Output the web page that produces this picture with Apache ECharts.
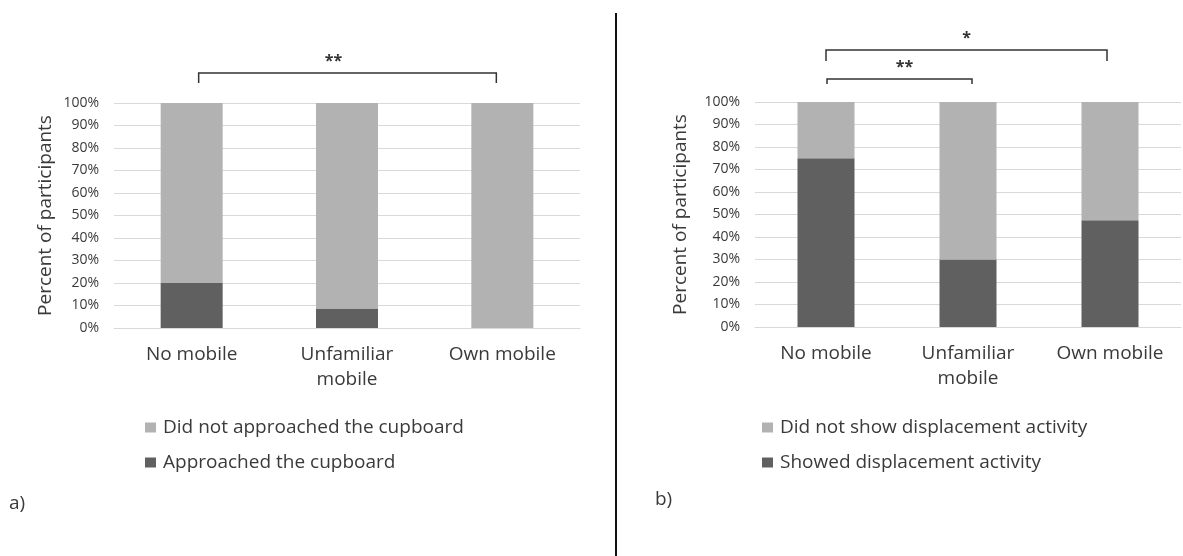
<!DOCTYPE html>
<html>
<head>
<meta charset="utf-8">
<script src="https://cdn.jsdelivr.net/npm/echarts@6/dist/echarts.min.js"></script>
<style>
  html, body { margin: 0; padding: 0; background: #fff; }
  #chart { width: 1183px; height: 556px; }
</style>
</head>
<body>
<div id="chart"></div>
<script>
// categories shared by both panels
const categories = ['No mobile', 'Unfamiliar\nmobile', 'Own mobile']

// panel a) approaching the cupboard (%)
const approached = [20, 8.7, 0]
const notApproached = [80, 91.3, 100]

// panel b) displacement activity (%)
const showedDisplacement = [75, 30, 47.5]
const noDisplacement = [25, 70, 52.5]

const seriesNamesA = ['Did not approached the cupboard', 'Approached the cupboard']
const seriesNamesB = ['Did not show displacement activity', 'Showed displacement activity']

// significance brackets: panel, from category, to category, stars
const brackets = [
  { panel: 0, from: 0, to: 2, y: 73, drop: 10, inset: [7, 6], stars: '**', starDx: -14 },
  { panel: 1, from: 0, to: 2, y: 50, drop: 11, inset: [0, 3], stars: '*', starDx: 0 },
  { panel: 1, from: 0, to: 1, y: 79, drop: 5, inset: [1, -4], stars: '**', starDx: 5 },
]

const FONT = 'Open Sans'
const LIGHT = '#b2b2b2'
const DARK = '#606060'
const TEXT = '#3a3a3a'

const chart = echarts.init(document.getElementById('chart'))

function makeX(gridIndex) {
  return {
    type: 'category',
    gridIndex,
    data: categories,
    axisLine: { lineStyle: { color: '#d9d9d9' } },
    axisTick: { show: false },
    axisLabel: {
      color: TEXT,
      fontFamily: FONT,
      fontSize: 19,
      lineHeight: 25,
      margin: 14,
      interval: 0,
    },
  }
}

function makeY(gridIndex, nameGap) {
  return {
    type: 'value',
    gridIndex,
    min: 0,
    max: 100,
    interval: 10,
    name: 'Percent of participants',
    nameLocation: 'middle',
    nameGap,
    nameTextStyle: { color: TEXT, fontFamily: FONT, fontSize: 19 },
    axisLine: { show: false },
    axisTick: { show: false },
    splitLine: { lineStyle: { color: '#d9d9d9', width: 1 } },
    axisLabel: {
      color: TEXT,
      fontFamily: FONT,
      fontSize: 14,
      margin: 15,
      formatter: '{value}%',
    },
  }
}

function makeLegend(left, names) {
  return {
    orient: 'vertical',
    left,
    top: 416,
    padding: 0,
    icon: 'rect',
    itemWidth: 11,
    itemHeight: 10,
    itemGap: 12,
    data: names,
    textStyle: { color: TEXT, fontFamily: FONT, fontSize: 19, lineHeight: 23, padding: [0, 0, 0, 2] },
  }
}

const option = {
  animation: false,
  backgroundColor: '#fff',
  grid: [
    { left: 114, top: 103, width: 466, height: 225 },
    { left: 755, top: 102, width: 426, height: 225 },
  ],
  xAxis: [makeX(0), makeX(1)],
  yAxis: [makeY(0, 59), makeY(1, 65)],
  legend: [makeLegend(145, seriesNamesA), makeLegend(762, seriesNamesB)],
  series: [
    {
      name: seriesNamesA[1], type: 'bar', stack: 'a', xAxisIndex: 0, yAxisIndex: 0,
      barWidth: 62, itemStyle: { color: DARK }, data: approached,
    },
    {
      name: seriesNamesA[0], type: 'bar', stack: 'a', xAxisIndex: 0, yAxisIndex: 0,
      barWidth: 62, itemStyle: { color: LIGHT }, data: notApproached,
    },
    {
      name: seriesNamesB[1], type: 'bar', stack: 'b', xAxisIndex: 1, yAxisIndex: 1,
      barWidth: 57, itemStyle: { color: DARK }, data: showedDisplacement,
    },
    {
      name: seriesNamesB[0], type: 'bar', stack: 'b', xAxisIndex: 1, yAxisIndex: 1,
      barWidth: 57, itemStyle: { color: LIGHT }, data: noDisplacement,
    },
  ],
}

chart.setOption(option)

// annotations: brackets, panel letters and divider
function buildGraphics() {
  const els = []
  brackets.forEach((b) => {
    const x1 = chart.convertToPixel({ xAxisIndex: b.panel }, categories[b.from]) + b.inset[0]
    const x2 = chart.convertToPixel({ xAxisIndex: b.panel }, categories[b.to]) - b.inset[1]
    els.push({
      type: 'polyline',
      shape: { points: [[x1, b.y + b.drop], [x1, b.y], [x2, b.y], [x2, b.y + b.drop]] },
      style: { stroke: '#333', lineWidth: 1.5, fill: null },
    })
    els.push({
      type: 'text',
      x: (x1 + x2) / 2 + b.starDx,
      y: b.y - 4,
      style: {
        text: b.stars, fill: '#333', font: 'bold 16px ' + FONT,
        align: 'center', verticalAlign: 'bottom',
      },
    })
  })
  els.push({
    type: 'line',
    shape: { x1: 616, y1: 13, x2: 616, y2: 556 },
    style: { stroke: '#111', lineWidth: 2 },
  })
  els.push({
    type: 'text', x: 9, y: 504,
    style: { text: 'a)', fill: TEXT, font: '19px ' + FONT, verticalAlign: 'middle' },
  })
  els.push({
    type: 'text', x: 655, y: 500,
    style: { text: 'b)', fill: TEXT, font: '19px ' + FONT, verticalAlign: 'middle' },
  })
  return els
}

chart.setOption({ graphic: buildGraphics() })

window.addEventListener('resize', () => chart.resize())
</script>
</body>
</html>
